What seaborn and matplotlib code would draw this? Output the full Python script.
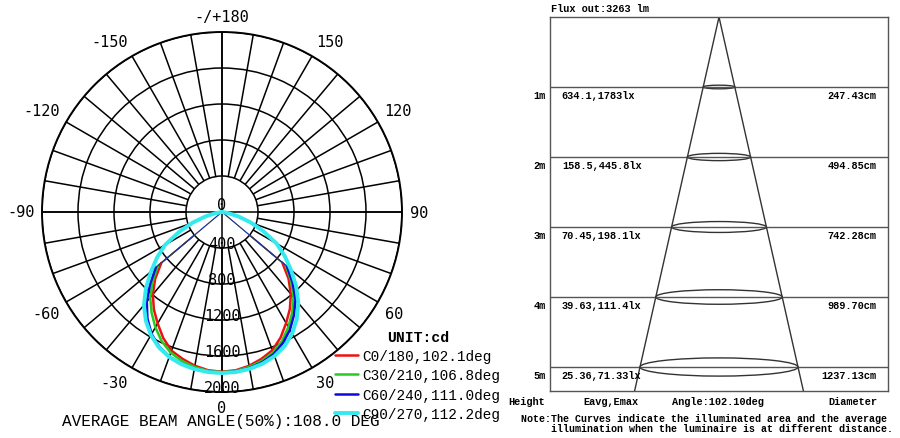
import numpy as np
import matplotlib
matplotlib.use("Agg")
import matplotlib.pyplot as plt
from matplotlib.patches import Ellipse
import seaborn as sns

# ---- polar intensity data (cd), gamma -90 (left) .. 90 (right) every 5 deg
gamma = np.arange(-90, 95, 5)
c0_180 = [0, 0, 0, 0, 0, 0, 0, 0,
          880, 1050, 1195, 1320, 1430, 1545, 1640, 1690, 1735, 1765,
          1775,
          1765, 1735, 1690, 1635, 1540, 1425, 1315, 1190, 1045, 875,
          0, 0, 0, 0, 0, 0, 0, 0]
c30_210 = [0, 0, 0, 0, 0, 0, 0, 0,
           930, 1090, 1240, 1365, 1480, 1585, 1665, 1715, 1750, 1772,
           1780,
           1772, 1748, 1712, 1660, 1580, 1475, 1360, 1235, 1085, 925,
           0, 0, 0, 0, 0, 0, 0, 0]
c60_240 = [0, 0, 0, 0, 0, 0, 0, 0,
           960, 1130, 1300, 1445, 1565, 1650, 1710, 1745, 1768, 1780,
           1785,
           1778, 1760, 1728, 1680, 1605, 1510, 1395, 1270, 1110, 945,
           0, 0, 0, 0, 0, 0, 0, 0]
c90_270 = [0, 0, 70, 190, 350, 530, 730, 880,
           1030, 1195, 1350, 1475, 1580, 1660, 1715, 1750, 1772, 1785,
           1790,
           1785, 1770, 1745, 1705, 1645, 1560, 1450, 1320, 1165, 1000,
           850, 700, 510, 340, 185, 65, 0, 0]
# gamma beyond which each curve drops straight to the centre (thin line)
kinks = [50, 50, 50, 90]
curve_labels = ["C0/180,102.1deg", "C30/210,106.8deg",
                "C60/240,111.0deg", "C90/270,112.2deg"]
rings = [400, 800, 1200, 1600, 2000]
angle_ticks = [180, 150, 120, 90, 60, 30, 0, -30, -60, -90, -120, -150]
angle_labels = ["-/+180", "150", "120", "90", "60", "30", "0",
                "-30", "-60", "-90", "-120", "-150"]

# ---- illuminance cone data
heights = [1, 2, 3, 4, 5]
eavg = ["634.1", "158.5", "70.45", "39.63", "25.36"]
emax = ["1783", "445.8", "198.1", "111.4", "71.33"]
diameter_cm = [247.43, 494.85, 742.28, 989.70, 1237.13]
beam_angle = 102.10
avg_beam_angle = 108.0
flux = 3263

sns.set_style("white")
plt.rcParams["font.family"] = ["DejaVu Sans Mono"]
plt.rcParams["text.color"] = "black"
MONO = "Liberation Mono"

fig = plt.figure(figsize=(9, 4.39), dpi=100)

# ---------------- polar diagram ----------------
ax = fig.add_axes([42 / 900, 46 / 439, 360 / 900, 360 / 439], projection="polar")
ax.set_theta_zero_location("S")
ax.set_theta_direction(1)
ax.set_rgrids(rings, labels=[])
ax.set_thetagrids([])
ax.xaxis.grid(False)
ax.yaxis.grid(True, color="black", lw=1.1)
ax.spines["polar"].set_color("black")
ax.spines["polar"].set_linewidth(1.4)

spokes = np.deg2rad(np.arange(0, 360, 10))
ax.vlines(spokes, rings[0], rings[-1], colors="black", lw=1.1)
ax.vlines(np.deg2rad([0, 90, 180, 270]), 0, rings[-1], colors="black", lw=1.1)

colors = ["#ee1111", "#22cc22", "#0a0adc", "#33eaee"]
widths = [1.8, 1.8, 1.8, 2.8]
for vals, kink, col, lw, lab in zip([c0_180, c30_210, c60_240, c90_270], kinks,
                                    colors, widths, curve_labels):
    vals = np.asarray(vals)
    main = np.abs(gamma) <= kink
    sns.lineplot(x=np.deg2rad(gamma[main]), y=vals[main], ax=ax, sort=False,
                 estimator=None, color=col, lw=lw, label=lab)
    for side in (gamma <= -kink, gamma >= kink):
        if side.sum() > 1:
            sns.lineplot(x=np.deg2rad(gamma[side]), y=vals[side], ax=ax, sort=False,
                         estimator=None, color=col, lw=0.7, alpha=0.8)
ax.set_rlim(0, rings[-1])
ax.set_xlabel("")
ax.set_ylabel("")

for a, lab in zip(angle_ticks, angle_labels):
    ha = "left" if 0 < a < 180 else ("right" if a < 0 else "center")
    va = "center" if abs(a) == 90 else ("top" if abs(a) < 90 else "bottom")
    ax.text(np.deg2rad(a), 2085, lab, ha=ha, va=va, fontsize=11, clip_on=False)
for r in rings:
    ax.text(0, r - 55, str(r), ha="center", va="center", fontsize=11)
ax.text(np.pi, 80, "0", ha="center", va="center", fontsize=11)

leg = ax.legend(loc="upper left", bbox_to_anchor=(335 / 900, 1 - 331 / 439),
                bbox_transform=fig.transFigure, frameon=False,
                prop={"family": MONO, "size": 10.4}, title="UNIT:cd",
                title_fontproperties={"family": MONO, "size": 10.6, "weight": "bold"},
                handlelength=1.6, handletextpad=0.3, labelspacing=0.36,
                borderpad=0, borderaxespad=0)

fig.text(221 / 900, 1 - 422 / 439,
         "AVERAGE BEAM ANGLE(50%):{:.1f} DEG".format(avg_beam_angle),
         ha="center", va="center", family=MONO, fontsize=11.6)

# ---------------- cone diagram ----------------
ax2 = fig.add_axes([550 / 900, 47 / 439, 338 / 900, 374 / 439])
ybot = 374 / 70                                # 70 px per metre of height
px_per_m = 79 / (diameter_cm[-1] / 200)        # horizontal scale
xmax = 169 / px_per_m
ax2.set_xlim(-xmax, xmax)
ax2.set_ylim(ybot, 0)
ax2.set_xticks([])
ax2.set_yticks([])
for s in ax2.spines.values():
    s.set_color("#555555")
    s.set_linewidth(1.0)

for h in heights:
    ax2.axhline(h, color="#555555", lw=1.0)

half = np.tan(np.deg2rad(beam_angle / 2))
sns.lineplot(x=[-half * ybot, 0, half * ybot], y=[ybot, 0, ybot], ax=ax2,
             sort=False, estimator=None, color="#333333", lw=1.0)

for h, d in zip(heights, diameter_cm):
    dm = d / 100
    ax2.add_patch(Ellipse((0, h), width=dm, height=0.021 * dm,
                          fill=False, ec="#333333", lw=1.0))

tr = ax2.get_yaxis_transform()
txt = dict(family=MONO, fontsize=7.4, weight="bold", va="center")
for h, ea, em, d in zip(heights, eavg, emax, diameter_cm):
    ax2.text(-0.012, h + 0.115, f"{h}m", ha="right", transform=tr, clip_on=False, **txt)
    ax2.text(0.035, h + 0.115, f"{ea},{em}lx", ha="left", transform=tr, **txt)
    ax2.text(0.967, h + 0.115, f"{d:.2f}cm", ha="right", transform=tr, **txt)
ax2.text(0.003, -0.13, f"Flux out:{flux} lm", ha="left", transform=tr, clip_on=False, **txt)

yb = 1 - 402 / 439
fig.text(527 / 900, yb, "Height", ha="center", **txt)
fig.text(611 / 900, yb, "Eavg,Emax", ha="center", **txt)
fig.text(718 / 900, yb, f"Angle:{beam_angle:.2f}deg", ha="center", **txt)
fig.text(853 / 900, yb, "Diameter", ha="center", **txt)
note = dict(txt, fontsize=7.2)
fig.text(521 / 900, 1 - 419 / 439,
         "Note:The Curves indicate the illuminated area and the average",
         ha="left", **note)
fig.text(551 / 900, 1 - 429 / 439,
         "illumination when the luminaire is at different distance.",
         ha="left", **note)

fig.savefig("out.png", dpi=100, facecolor="white")
